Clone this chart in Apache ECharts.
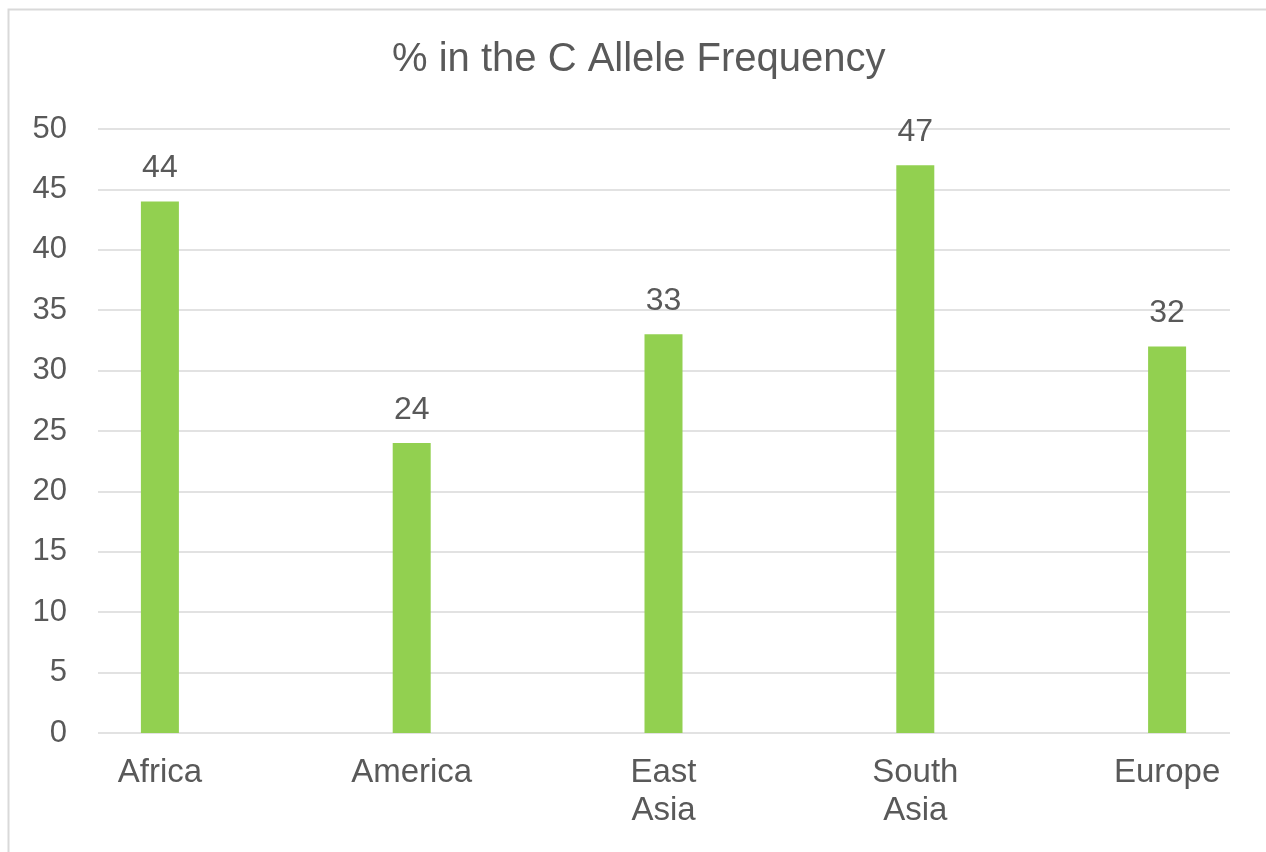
<!DOCTYPE html>
<html>
<head>
<meta charset="utf-8">
<script src="https://cdn.jsdelivr.net/npm/echarts@6/dist/echarts.min.js"></script>
<style>
html,body{margin:0;padding:0;background:#fff;}
#chart{width:1266px;height:852px;}
</style>
</head>
<body>
<div id="chart"></div>
<script>
const titleText = '% in the C Allele Frequency';
const categories = ['Africa', 'America', 'East\nAsia', 'South\nAsia', 'Europe'];
const values = [44, 24, 33, 47, 32];
const yMin = 0;
const yMax = 50;
const yStep = 5;

const FONT = '"Liberation Sans", Arial, sans-serif';
const TXT = '#595959';

const chart = echarts.init(document.getElementById('chart'), null, {renderer: 'canvas'});
chart.setOption({
  animation: false,
  backgroundColor: '#ffffff',
  graphic: [{
    type: 'rect',
    left: 6, top: 7,
    shape: {x: 0, y: 0, width: 1400, height: 1000},
    style: {fill: 'none', stroke: '#d9d9d9', lineWidth: 2},
    z: -10
  }],
  title: {
    text: titleText,
    left: 392, top: 40, padding: 0,
    textStyle: {fontFamily: FONT, fontSize: 40, fontWeight: 'normal', color: TXT, lineHeight: 40}
  },
  grid: [
    {left: 98, right: 36, top: 129, bottom: 119, containLabel: false, outerBoundsMode: 'none'},
    {left: 34, width: 1259, top: 129, bottom: 119, containLabel: false, outerBoundsMode: 'none'}
  ],
  xAxis: [
    {type: 'category', gridIndex: 0, data: categories, show: false},
    {
      type: 'category', gridIndex: 1, data: categories,
      axisLine: {show: false}, axisTick: {show: false},
      axisLabel: {fontFamily: FONT, fontSize: 33, color: TXT, lineHeight: 38, margin: 21, interval: 0}
    }
  ],
  yAxis: [
    {
      type: 'value', gridIndex: 0, min: yMin, max: yMax, interval: yStep,
      axisLine: {show: false}, axisTick: {show: false},
      axisLabel: {fontFamily: FONT, fontSize: 31, color: TXT, margin: 31},
      splitLine: {show: true, lineStyle: {color: '#d9d9d9', width: 1.5}}
    },
    {type: 'value', gridIndex: 1, min: yMin, max: yMax, interval: yStep, show: false, splitLine: {show: false}}
  ],
  series: [{
    type: 'bar',
    xAxisIndex: 1, yAxisIndex: 1,
    data: values,
    barWidth: 38,
    itemStyle: {color: '#92D050'},
    label: {
      show: true, position: 'top', distance: 17,
      fontFamily: FONT, fontSize: 32, color: TXT, lineHeight: 32
    }
  }]
});
</script>
</body>
</html>
